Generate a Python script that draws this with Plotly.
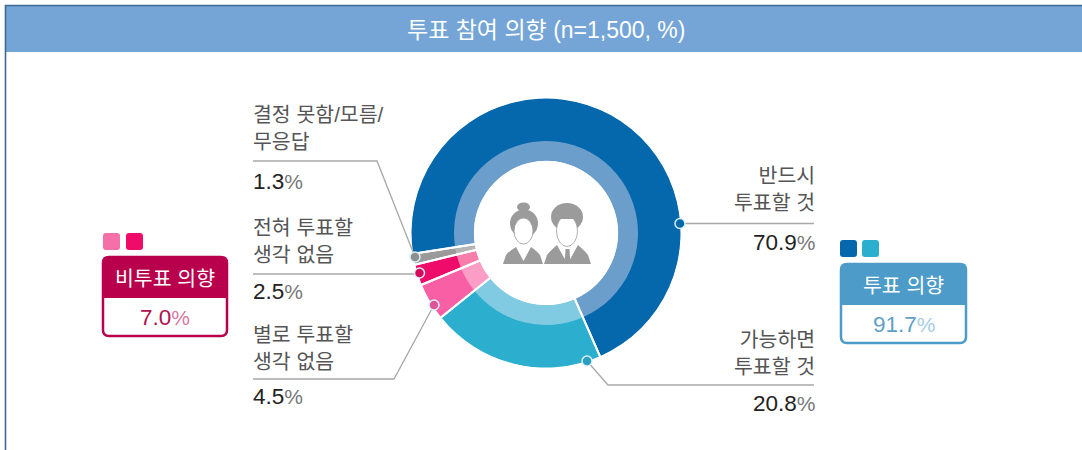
import plotly.graph_objects as go

W, H = 1082, 450
TITLE = "투표 참여 의향 (n=1,500, %)"
categories = ["반드시 투표할 것", "가능하면 투표할 것", "별로 투표할 생각 없음", "전혀 투표할 생각 없음", "결정 못함/모름/무응답"]
values = [70.9, 20.8, 4.5, 2.5, 1.3]
outer_colors = ["#0568AD", "#2CAECF", "#F95FA5", "#EE0B6A", "#9A9A9A"]
inner_colors = ["#6C9ECB", "#80CBE2", "#FB9DC4", "#F97DAB", "#B5B5B5"]
group_names = ["비투표 의향", "투표 의향"]
group_values = [7.0, 91.7]
ROT = 261.1
FONT = "Liberation Sans, Noto Sans CJK KR"
NUM = "Liberation Sans"
TXT = "#555555"
LINE = "#A8A8A8"


def X(p):
    return p / W


def Y(p):
    return 1 - p / H


CX, CY = 546, 233


def pie(r, hole, colors, line_width=0, hover="label+value"):
    return go.Pie(
        labels=categories, values=values, sort=False, direction="clockwise", rotation=ROT,
        hole=hole, textinfo="none", hoverinfo=hover, showlegend=False,
        marker=dict(colors=colors, line=dict(color="white", width=line_width)),
        domain=dict(x=[X(CX - r), X(CX + r)], y=[Y(CY + r), Y(CY - r)]),
    )


fig = go.Figure([
    pie(134.5, 88 / 134.5, outer_colors),
    pie(92, 72 / 92, inner_colors),
    pie(136, 71 / 136, ["rgba(0,0,0,0)"] * len(values), 2, "skip"),
])

shapes, ann = [], []


def rect(x0, y0, x1, y1, fill, line=None, lw=0, layer="above"):
    shapes.append(dict(type="rect", xref="paper", yref="paper", x0=X(x0), x1=X(x1), y0=Y(y0), y1=Y(y1),
                       fillcolor=fill, line=dict(color=line or fill, width=lw), layer=layer))


def rr(x0, y0, x1, y1, r, tl=True, bl=True):
    """rounded rectangle path in paper coordinates"""
    def P(a, b):
        return f"{X(a):.5f},{Y(b):.5f}"
    rt = r if tl else 0
    rb = r if bl else 0
    return (f"M{P(x0 + rt, y0)} L{P(x1 - rt, y0)} Q{P(x1, y0)} {P(x1, y0 + rt)} "
            f"L{P(x1, y1 - rb)} Q{P(x1, y1)} {P(x1 - rb, y1)} L{P(x0 + rb, y1)} "
            f"Q{P(x0, y1)} {P(x0, y1 - rb)} L{P(x0, y0 + rt)} Q{P(x0, y0)} {P(x0 + rt, y0)} Z")


def path(d, fill, line=None, lw=0):
    shapes.append(dict(type="path", xref="paper", yref="paper", path=d, fillcolor=fill,
                       line=dict(color=line or fill, width=lw), layer="above"))


def poly(pts, color=LINE, lw=1.3):
    d = "M" + " L".join(f"{X(a):.5f},{Y(b):.5f}" for a, b in pts)
    shapes.append(dict(type="path", xref="paper", yref="paper", path=d,
                       line=dict(color=color, width=lw), layer="above"))


def ell(cx, cy, rx, ry, fill, line=None, lw=0):
    shapes.append(dict(type="circle", xref="paper", yref="paper", x0=X(cx - rx), x1=X(cx + rx),
                       y0=Y(cy + ry), y1=Y(cy - ry), fillcolor=fill,
                       line=dict(color=line or fill, width=lw), layer="above"))


def text(x, y, s, anchor="left", size=20.5, color=TXT, family=FONT):
    ann.append(dict(xref="paper", yref="paper", x=X(x), y=Y(y), text=s, showarrow=False,
                    xanchor=anchor, yanchor="middle", align=anchor,
                    font=dict(family=family, size=size, color=color)))


def pct(v, color="#222222", pcolor="#777777", size=22.5):
    return f'<span style="color:{color}">{v:.1f}</span><span style="color:{pcolor};font-size:{size - 1.5}px">%</span>'


# header band and frame
rect(6, 6, W + 2, 52, "#74A5D6", layer="below")
poly([(W + 2, 5.5), (5.5, 5.5), (5.5, H + 2)], "#3A6A93", 1.6)
text(546, 30, TITLE, "center", 23, "white")

# leader lines and dots
poly([(253, 161), (377, 161), (415, 257)])
poly([(253, 274), (419, 274)])
poly([(253, 379), (394, 379), (434, 305)])
poly([(680, 223.5), (814, 223.5)])
poly([(587, 361), (608, 385), (814, 385)])
for (dx, dy), col in zip([(680, 223.5), (587, 361), (434, 305), (419.5, 273), (415, 257)],
                         ["#0568AD", "#2C9EBF", "#E0559A", "#D8085F", "#8F8F8F"]):
    ell(dx, dy, 5, 5, col, "#D9F0F7", 1.5)

# centre figures
G = "#9B9B9B"


def body(x0, x1, top, neck_l, neck_r):
    def P(a, b):
        return f"{X(a):.5f},{Y(b):.5f}"
    return (f"M{P(x0, 264)} L{P(x0 + 3, 255)} Q{P(x0 + 5, 252)} {P(neck_l, top)} L{P(neck_r, top)} "
            f"Q{P(x1 - 5, 252)} {P(x1 - 3, 255)} L{P(x1, 264)} Z")


def tri(pts, fill):
    d = "M" + " L".join(f"{X(a):.5f},{Y(b):.5f}" for a, b in pts) + " Z"
    path(d, fill)


# woman
ell(523.5, 207, 6.5, 4.5, G)
ell(524, 223.5, 14, 14, G)
path(body(503, 543, 247, 516, 531), G)
tri([(516, 247), (531, 247), (523.5, 261)], "white")
ell(523.5, 231, 9.5, 13, "white", G, 0.8)
# man
ell(567, 217, 16, 14, G)
path(body(544, 591, 245, 557, 578), G)
tri([(557, 245), (578, 245), (567.5, 264)], "white")
tri([(565.5, 249), (569.5, 249), (570.5, 264), (564.5, 264)], G)
ell(567, 231, 10.5, 15.5, "white", G, 0.8)
path(rr(556, 212, 578, 219, 3), G)

# left labels
LX, RX = 251, 817
for y, s in [(127.5, "결정 못함/모름/<br>무응답"), (241.5, "전혀 투표할<br>생각 없음"),
             (347.5, "별로 투표할<br>생각 없음")]:
    text(LX, y, s)
for y, v in zip([181, 291, 396], [values[4], values[3], values[2]]):
    text(LX, y, pct(v), family=NUM, size=22.5)

# right labels
for y, s in [(188.5, "반드시<br>투표할 것"), (353, "가능하면<br>투표할 것")]:
    text(RX, y, s, "right")
for y, v in zip([242, 403], [values[0], values[1]]):
    text(RX, y, pct(v), "right", family=NUM, size=22.5)

# group boxes
boxes = [
    (103, 227, 257, 298, 336, "#B8004C", "#B0104F", "#D878A0", 0, [(103, "#F56FA9"), (126, "#EE0B6A")], 233),
    (841, 966, 264, 305, 343, "#4C9BC9", "#5E9FC5", "#A5CDE3", 1, [(840, "#0568AD"), (862, "#2CAECF")], 240),
]
for x0, x1, y0, ym, y1, col, vc, pc, i, sq, sy in boxes:
    path(rr(x0, y0, x1, y1, 6), "white", col, 2.5)
    path(rr(x0, y0, x1, ym, 6, True, False), col)
    for sx, sc in sq:
        path(rr(sx, sy, sx + 17, sy + 17, 3), sc)
    text((x0 + x1) / 2, (y0 + ym) / 2 + 1, group_names[i], "center", 20.5, "white")
    text((x0 + x1) / 2, (ym + y1) / 2, pct(group_values[i], vc, pc), "center", family=NUM, size=22.5)

fig.update_layout(width=W, height=H, margin=dict(l=0, r=0, t=0, b=0), paper_bgcolor="white",
                  plot_bgcolor="white", shapes=shapes, annotations=ann, showlegend=False)
fig.write_html("out.html", config=dict(displayModeBar=False),
               post_script="document.body.style.margin='0';document.documentElement.style.overflow='hidden';")
